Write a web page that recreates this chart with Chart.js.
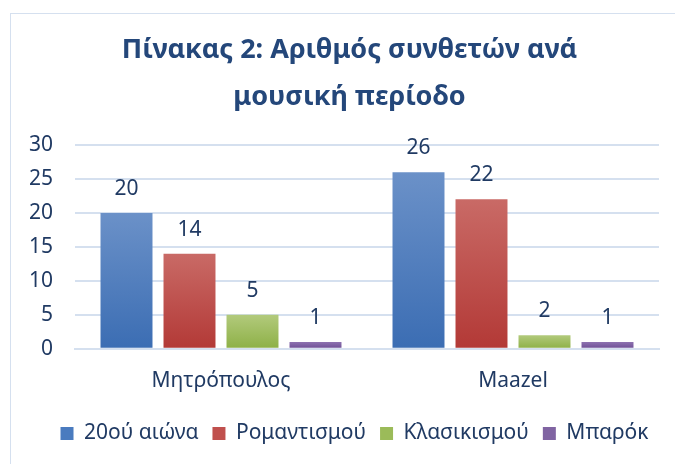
<!DOCTYPE html>
<html><head><meta charset="utf-8">
<script src="https://cdn.jsdelivr.net/npm/chart.js@4/dist/chart.umd.min.js"></script>
<style>
html,body{margin:0;padding:0;background:#fff;overflow:hidden}
#wrap{position:absolute;left:0;top:0;width:675px;height:464px}
#frame{position:absolute;left:10px;top:13px;width:700px;height:500px;border:1px solid #d5e0ef;box-sizing:border-box}
canvas{position:absolute;left:0;top:0}
</style></head><body>
<div id="wrap"><div id="frame"></div><canvas id="c" width="675" height="464"></canvas></div>
<script>
const categories = ["Μητρόπουλος", "Maazel"];
const seriesNames = ["20ού αιώνα", "Ρομαντισμού", "Κλασικισμού", "Μπαρόκ"];
const values20th = [20, 26];
const valuesRomantic = [14, 22];
const valuesClassical = [5, 2];
const valuesBaroque = [1, 1];
const yTicks = [0, 5, 10, 15, 20, 25, 30];
const titleLines = ["Πίνακας 2: Αριθμός συνθετών ανά", "μουσική περίοδο"];

const palette = [
  {top:"#6b91c8", bot:"#3b6db3", solid:"#4a7bbf"},
  {top:"#c96a66", bot:"#b33936", solid:"#c0504d"},
  {top:"#b2ca7c", bot:"#8db046", solid:"#9bbb59"},
  {top:"#8e72b0", bot:"#6c4d94", solid:"#8064a2"}
];
const FONT = "'Noto Sans', sans-serif";
const TXT = "#203a63";

function grad(i){
  return function(ctx){
    const chart = ctx.chart;
    if (!chart.chartArea || ctx.type !== 'data') return palette[i].solid;
    const y = chart.scales.y;
    const v = ctx.raw;
    const g = chart.ctx.createLinearGradient(0, y.getPixelForValue(v), 0, y.getPixelForValue(0));
    g.addColorStop(0, palette[i].top);
    g.addColorStop(1, palette[i].bot);
    return g;
  };
}

const dataLabels = {
  id:'dataLabels',
  afterDatasetsDraw(chart){
    const c = chart.ctx;
    c.save();
    c.font = "21px " + FONT;
    c.fillStyle = TXT;
    c.textAlign = 'center';
    c.textBaseline = 'middle';
    chart.data.datasets.forEach((ds, di) => {
      chart.getDatasetMeta(di).data.forEach((bar, i) => {
        c.fillText(String(ds.data[i]), bar.x, bar.y - 24);
      });
    });
    c.restore();
  }
};

const shiftBlocks = {
  id:'shiftBlocks',
  afterLayout(chart){
    if (chart.titleBlock) { chart.titleBlock.left += 20; chart.titleBlock.right += 20; }
    if (chart.legend) { chart.legend.left += 25; chart.legend.right += 25; }
  }
};

const allSeries = [values20th, valuesRomantic, valuesClassical, valuesBaroque];
new Chart(document.getElementById('c'), {
  type:'bar',
  data:{
    labels: categories,
    datasets: allSeries.map((d, i) => ({
      label: seriesNames[i],
      data: d,
      backgroundColor: grad(i),
      borderWidth: 0,
      categoryPercentage: 0.863,
      barPercentage: 0.825
    }))
  },
  options:{
    responsive:false,
    animation:false,
    devicePixelRatio:1,
    layout:{padding:{left:0,right:16,top:27,bottom:10}},
    plugins:{
      title:{display:true,text:titleLines,color:"#24477a",
        font:{family:FONT,size:27,weight:'bold',lineHeight:1.74},padding:{top:0,bottom:24}},
      legend:{position:'bottom',
        labels:{color:TXT,font:{family:FONT,size:21},boxWidth:13,boxHeight:13,padding:14,
          generateLabels(chart){
            return seriesNames.map((n,i)=>({text:n,fillStyle:palette[i].solid,strokeStyle:palette[i].solid,lineWidth:0,datasetIndex:i,fontColor:TXT}));
          }}},
      tooltip:{enabled:false}
    },
    scales:{
      x:{grid:{display:false,drawTicks:false},border:{display:true,color:"#d5e0ef",width:2},
        afterFit(s){ s.height = s.height - 5; },
        ticks:{color:TXT,font:{family:FONT,size:21},padding:20}},
      y:{min:0,max:30,
        afterBuildTicks(s){ s.ticks = yTicks.map(v=>({value:v})); },
        afterFit(s){ s.width = 75; },
        grid:{color:"#d5e0ef",lineWidth:2,drawTicks:false},border:{display:false},
        ticks:{color:TXT,font:{family:FONT,size:21},padding:22,autoSkip:false}}
    }
  },
  plugins:[dataLabels, shiftBlocks]
});
</script>
</body></html>
